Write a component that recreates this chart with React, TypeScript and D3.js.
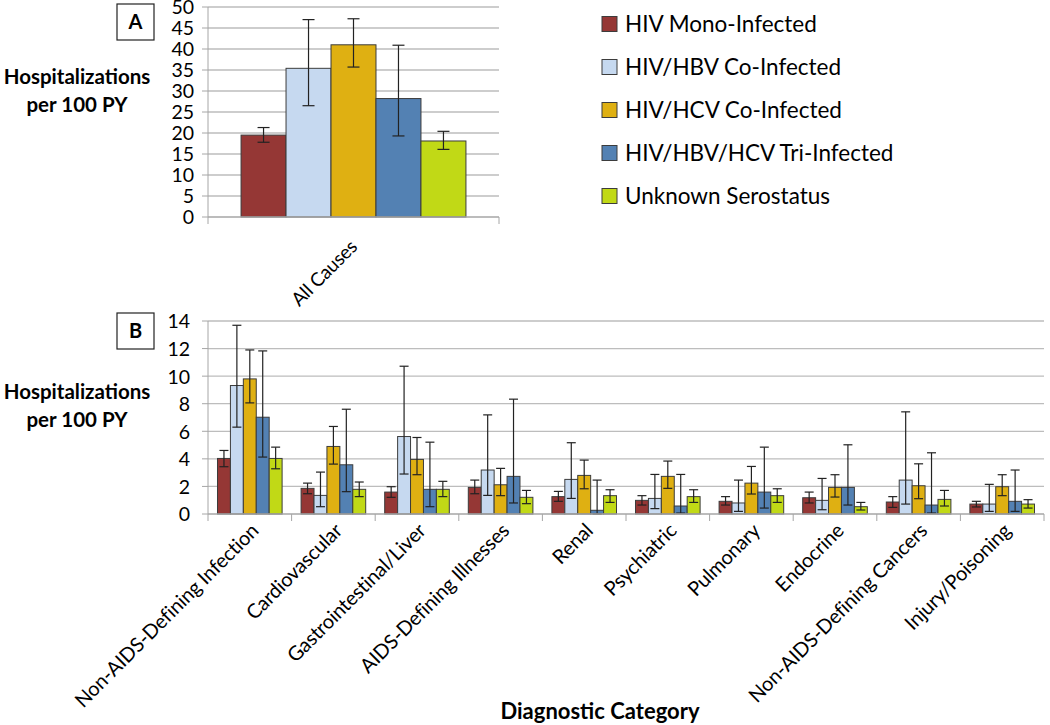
import React from 'react';
import * as d3 from 'd3';

// series
const seriesNames = [
  'HIV Mono-Infected',
  'HIV/HBV Co-Infected',
  'HIV/HCV Co-Infected',
  'HIV/HBV/HCV Tri-Infected',
  'Unknown Serostatus',
];
const seriesColors = ['#953735', '#c6d9f0', '#dfb012', '#5381b3', '#c1d916'];

// panel A - all causes
const allCausesCategory = ['All Causes'];
const allCausesRate = [19.5, 35.4, 41.0, 28.2, 18.1];
const allCausesLow = [17.8, 26.5, 35.7, 19.3, 16.1];
const allCausesHigh = [21.3, 47.0, 47.2, 40.9, 20.4];
const ticksA = [0, 5, 10, 15, 20, 25, 30, 35, 40, 45, 50];

// panel B - by diagnostic category
const categories = [
  'Non-AIDS-Defining Infection',
  'Cardiovascular',
  'Gastrointestinal/Liver',
  'AIDS-Defining Illnesses',
  'Renal',
  'Psychiatric',
  'Pulmonary',
  'Endocrine',
  'Non-AIDS-Defining Cancers',
  'Injury/Poisoning',
];
const rateMono = [4.03, 1.86, 1.59, 1.93, 1.26, 0.99, 0.92, 1.18, 0.87, 0.72];
const lowMono = [3.43, 1.47, 1.21, 1.47, 0.92, 0.65, 0.65, 0.8, 0.48, 0.51];
const highMono = [4.61, 2.24, 1.98, 2.46, 1.64, 1.33, 1.26, 1.59, 1.26, 0.92];

const rateHBV = [9.32, 1.35, 5.62, 3.19, 2.51, 1.13, 0.8, 0.99, 2.46, 0.72];
const lowHBV = [6.3, 0.53, 2.9, 1.35, 1.13, 0.39, 0.19, 0.31, 0.72, 0.19];
const highHBV = [13.69, 3.04, 10.72, 7.19, 5.17, 2.87, 2.46, 2.58, 7.41, 2.15];

const rateHCV = [9.8, 4.9, 3.96, 2.12, 2.8, 2.73, 2.24, 1.93, 2.05, 1.98];
const lowHCV = [8.06, 3.62, 2.85, 1.33, 1.83, 1.86, 1.45, 1.23, 1.11, 1.33];
const highHCV = [11.9, 6.35, 5.55, 3.31, 3.91, 3.84, 3.45, 2.85, 3.64, 2.85];

const rateTri = [7.02, 3.57, 1.79, 2.73, 0.27, 0.58, 1.59, 1.93, 0.65, 0.92];
const lowTri = [4.13, 1.62, 0.53, 0.8, 0.0, 0.07, 0.43, 0.65, 0.07, 0.19];
const highTri = [11.83, 7.6, 5.21, 8.33, 2.46, 2.87, 4.85, 5.02, 4.44, 3.19];

const rateUnk = [4.03, 1.79, 1.79, 1.21, 1.33, 1.26, 1.33, 0.53, 1.06, 0.72];
const lowUnk = [3.28, 1.26, 1.26, 0.75, 0.84, 0.84, 0.84, 0.29, 0.58, 0.43];
const highUnk = [4.85, 2.32, 2.37, 1.71, 1.76, 1.76, 1.83, 0.84, 1.71, 1.04];
const ticksB = [0, 2, 4, 6, 8, 10, 12, 14];

const ratesB = [rateMono, rateHBV, rateHCV, rateTri, rateUnk];
const lowsB = [lowMono, lowHBV, lowHCV, lowTri, lowUnk];
const highsB = [highMono, highHBV, highHCV, highTri, highUnk];

const FONT = 'Lato, "Open Sans", sans-serif';
const GRID = '#bdbdbd';
const AXIS = '#a6a6a6';

type PanelProps = {
  cats: string[];
  rates: number[][]; // [series][cat]
  lows: number[][];
  highs: number[][];
  ticks: number[];
  x0: number;
  x1: number;
  yTop: number;
  yBottom: number;
  tickRight: number;
  cap: number;
  labelDx: number;
  labelDy: number;
  labelSize: number;
};

function Panel(p: PanelProps) {
  const y = d3.scaleLinear().domain([0, p.ticks[p.ticks.length - 1]]).range([p.yBottom, p.yTop]);
  const x = d3.scaleBand<string>().domain(p.cats).range([p.x0, p.x1]);
  const xs = d3
    .scaleBand<string>()
    .domain(seriesNames)
    .range([0, x.bandwidth()])
    .paddingOuter(0.735);
  const bounds = p.cats.map((c) => x(c) as number).concat([p.x1]);

  return (
    <g>
      {p.ticks.map((t) => (
        <g key={t}>
          {t > 0 && <line x1={p.x0} x2={p.x1} y1={y(t)} y2={y(t)} stroke={GRID} strokeWidth={1.3} />}
          <line x1={p.x0 - 6} x2={p.x0} y1={y(t)} y2={y(t)} stroke={AXIS} />
          <text x={p.tickRight} y={y(t)} dy="0.38em" textAnchor="end" fontFamily={FONT} fontSize={19.5}>
            {t}
          </text>
        </g>
      ))}
      <line x1={p.x0} x2={p.x0} y1={p.yTop} y2={p.yBottom} stroke={AXIS} />
      {p.cats.map((c, ci) =>
        seriesNames.map((s, si) => {
          const bx = (x(c) as number) + (xs(s) as number);
          const w = xs.bandwidth();
          const v = p.rates[si][ci];
          const cx = bx + w / 2;
          return (
            <g key={c + s}>
              <rect
                x={bx}
                y={y(v)}
                width={w}
                height={y(0) - y(v)}
                fill={seriesColors[si]}
                stroke="#3c3c3c"
                strokeWidth={1}
              />
              <line x1={cx} x2={cx} y1={y(p.lows[si][ci])} y2={y(p.highs[si][ci])} stroke="#222" strokeWidth={1.2} />
              <line x1={cx - p.cap} x2={cx + p.cap} y1={y(p.lows[si][ci])} y2={y(p.lows[si][ci])} stroke="#222" strokeWidth={1.2} />
              <line x1={cx - p.cap} x2={cx + p.cap} y1={y(p.highs[si][ci])} y2={y(p.highs[si][ci])} stroke="#222" strokeWidth={1.2} />
            </g>
          );
        })
      )}
      <line x1={p.x0} x2={p.x1} y1={y(0)} y2={y(0)} stroke={AXIS} strokeWidth={1.3} />
      {bounds.map((b, i) => (
        <line key={i} x1={b} x2={b} y1={y(0)} y2={y(0) + 7} stroke={AXIS} />
      ))}
      {p.cats.map((c) => {
        const lx = (x(c) as number) + x.bandwidth() / 2 + p.labelDx;
        const ly = y(0) + p.labelDy;
        return (
          <text
            key={c}
            transform={`translate(${lx},${ly}) rotate(-45)`}
            textAnchor="end"
            fontFamily={FONT}
            fontSize={p.labelSize}
            letterSpacing={-0.2}
          >
            {c}
          </text>
        );
      })}
    </g>
  );
}

function YTitle({ cx, y }: { cx: number; y: number }) {
  return (
    <text textAnchor="middle" fontFamily={FONT} fontWeight="bold" fontSize={20.5}>
      <tspan x={cx} y={y}>Hospitalizations</tspan>
      <tspan x={cx} y={y + 28}>per 100 PY</tspan>
    </text>
  );
}

function PanelTag({ x, y, label }: { x: number; y: number; label: string }) {
  return (
    <g>
      <rect x={x} y={y} width={37} height={36} fill="#fff" stroke="#222" strokeWidth={1.2} />
      <text x={x + 18.5} y={y + 18} dy="0.36em" textAnchor="middle" fontFamily={FONT} fontWeight="bold" fontSize={20}>
        {label}
      </text>
    </g>
  );
}

export default function App() {
  const legendY = d3.scalePoint<string>().domain(seriesNames).range([24, 196]);
  return (
    <svg
      width={1050}
      height={725}
      style={{ position: 'absolute', left: 0, top: 0, background: '#fff' }}
    >
      <rect width={1050} height={725} fill="#fff" />
      <PanelTag x={117} y={4} label="A" />
      <PanelTag x={117} y={313} label="B" />
      <YTitle cx={77} y={84} />
      <YTitle cx={77} y={399} />
      <Panel
        cats={allCausesCategory}
        rates={allCausesRate.map((v) => [v])}
        lows={allCausesLow.map((v) => [v])}
        highs={allCausesHigh.map((v) => [v])}
        ticks={ticksA}
        x0={208}
        x1={499}
        yTop={7}
        yBottom={217}
        tickRight={194}
        cap={6}
        labelDx={5}
        labelDy={31}
        labelSize={19}
      />
      <Panel
        cats={categories}
        rates={ratesB}
        lows={lowsB}
        highs={highsB}
        ticks={ticksB}
        x0={208}
        x1={1044}
        yTop={321}
        yBottom={514}
        tickRight={190}
        cap={4.5}
        labelDx={10}
        labelDy={18}
        labelSize={20}
      />
      {seriesNames.map((s, i) => (
        <g key={s}>
          <rect
            x={602}
            y={(legendY(s) as number) - 7.5}
            width={15}
            height={15}
            fill={seriesColors[i]}
            stroke="#3c3c3c"
          />
          <text x={625} y={legendY(s) as number} dy="0.36em" fontFamily={FONT} fontSize={22.5}>
            {s}
          </text>
        </g>
      ))}
      <text
        x={600}
        y={719}
        textAnchor="middle"
        fontFamily={'"Liberation Sans Narrow", ' + FONT}
        fontWeight="bold"
        fontSize={22}
      >
        Diagnostic Category
      </text>
    </svg>
  );
}
